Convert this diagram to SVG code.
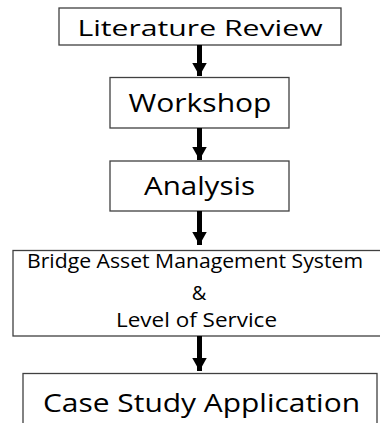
<svg xmlns="http://www.w3.org/2000/svg" width="380" height="423" viewBox="0 0 380 423">
  <style>
    .box { fill: #ffffff; stroke: #404040; stroke-width: 1.3; }
    .label { font-family: "Open Sans", "Noto Sans", "Liberation Sans", sans-serif; fill: #000000; text-anchor: middle; }
    .shaft { stroke: #000000; stroke-width: 5; fill: none; }
    .head { fill: #000000; }
  </style>
  <defs>
    <marker id="arrowhead" markerUnits="userSpaceOnUse" markerWidth="16" markerHeight="16" refX="13.5" refY="7.5" orient="auto">
      <path class="head" d="M0,0 L13.5,7.5 L0,15 Z"/>
    </marker>
  </defs>
  <rect width="380" height="423" fill="#ffffff"/>

  <!-- steps of the process -->
  <g id="literature-review">
    <rect class="box" x="59" y="8" width="282" height="37"/>
    <text class="label" x="200" y="36" font-size="22.5" textLength="245" lengthAdjust="spacingAndGlyphs">Literature Review</text>
  </g>
  <g id="workshop">
    <rect class="box" x="110" y="77.5" width="179" height="50.5"/>
    <text class="label" x="200" y="112" font-size="26" textLength="143" lengthAdjust="spacingAndGlyphs">Workshop</text>
  </g>
  <g id="analysis">
    <rect class="box" x="110" y="161" width="179" height="50"/>
    <text class="label" x="199.5" y="195" font-size="25" textLength="111" lengthAdjust="spacingAndGlyphs">Analysis</text>
  </g>
  <g id="bams-los">
    <rect class="box" x="13" y="250.5" width="380" height="85.5"/>
    <text class="label" x="195" y="268" font-size="20" textLength="336" lengthAdjust="spacingAndGlyphs">Bridge Asset Management System</text>
    <text class="label" x="199" y="300" font-size="20">&amp;</text>
    <text class="label" x="196.5" y="327" font-size="20" textLength="161" lengthAdjust="spacingAndGlyphs">Level of Service</text>
  </g>
  <g id="case-study">
    <rect class="box" x="23" y="373.5" width="354" height="70"/>
    <text class="label" x="201.5" y="412" font-size="26" textLength="317" lengthAdjust="spacingAndGlyphs">Case Study Application</text>
  </g>

  <!-- connectors -->
  <g id="connectors">
    <line class="shaft" x1="199.5" y1="45" x2="199.5" y2="76" marker-end="url(#arrowhead)"/>
    <line class="shaft" x1="199.5" y1="128" x2="199.5" y2="160" marker-end="url(#arrowhead)"/>
    <line class="shaft" x1="199.5" y1="211" x2="199.5" y2="245" marker-end="url(#arrowhead)"/>
    <line class="shaft" x1="199.5" y1="336" x2="199.5" y2="371" marker-end="url(#arrowhead)"/>
  </g>
</svg>
